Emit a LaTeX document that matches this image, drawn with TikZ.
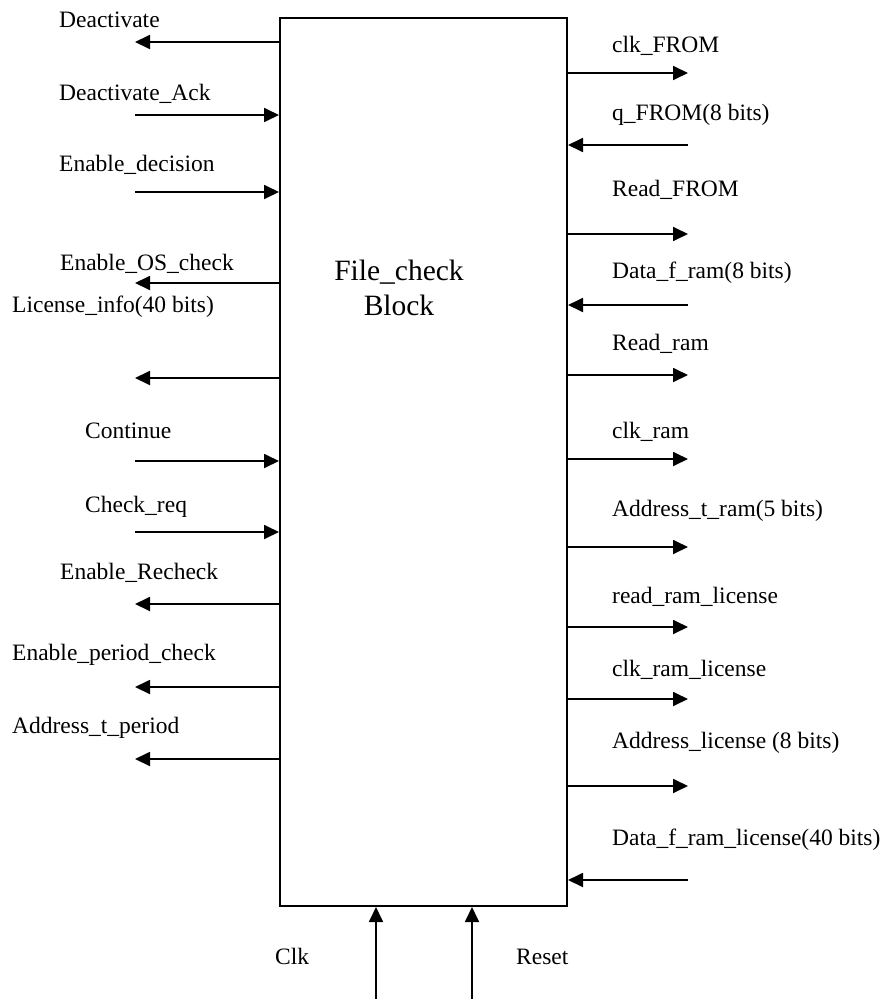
\documentclass[tikz,border=0pt]{standalone}
\usepackage{fontspec}
\setmainfont{Liberation Serif}
\usetikzlibrary{arrows.meta}
\begin{document}
\begin{tikzpicture}[x=1pt,y=-1pt,
  sig/.style={line width=1.8pt},
  sigo/.style={sig, -{Triangle[length=15pt,width=14pt]}},
  sigi/.style={sig, {Triangle[length=15pt,width=14pt]}-},
  lbl/.style={anchor=base west, inner sep=0pt, font=\fontsize{23.5}{28}\selectfont},
  ]
\useasboundingbox (0,0) rectangle (889,999);
\node[draw, line width=2pt, minimum width=287pt, minimum height=888pt, inner sep=0pt] (box) at (423.5,462) {};
\node[font=\fontsize{29.5}{35}\selectfont, align=center] (title) at (399,288) {File\_check\\Block};
% left side
\foreach \i/\lx/\ly/\ay/\d/\t in {
  1/59/27/42/sigo/{Deactivate},
  2/59/100/115/sigi/{Deactivate\_Ack},
  3/59/171/192/sigi/{Enable\_decision},
  4/60/270/283/sigo/{Enable\_OS\_check},
  5/12/312/378/sigo/{License\_info(40 bits)},
  6/85/438/461/sigi/{Continue},
  7/85/512/532/sigi/{Check\_req},
  8/60/579/604/sigo/{Enable\_Recheck},
  9/12/660/687/sigo/{Enable\_period\_check},
  10/12/733/759/sigo/{Address\_t\_period}}{
  \node[lbl] (L\i) at (\lx,\ly) {\t};
  \coordinate (LE\i) at (135,\ay);
  \draw[style=\d] (box.west |- LE\i) -- (LE\i);
}
% right side
\foreach \i/\ly/\ay/\d/\t in {
  1/52/73/sigo/{clk\_FROM},
  2/120/145/sigi/{q\_FROM(8 bits)},
  3/196/234/sigo/{Read\_FROM},
  4/278/305/sigi/{Data\_f\_ram(8 bits)},
  5/350/375/sigo/{Read\_ram},
  6/438/459/sigo/{clk\_ram},
  7/516/547/sigo/{Address\_t\_ram(5 bits)},
  8/603/627/sigo/{read\_ram\_license},
  9/676/699/sigo/{clk\_ram\_license},
  10/748/786/sigo/{Address\_license (8 bits)},
  11/845/880/sigi/{Data\_f\_ram\_license(40 bits)}}{
  \node[lbl] (R\i) at (612,\ly) {\t};
  \coordinate (RE\i) at (688,\ay);
  \draw[style=\d] (box.east |- RE\i) -- (RE\i);
}
% bottom
\node[lbl] (clk) at (275,964) {Clk};
\node[lbl] (reset) at (516,964) {Reset};
\coordinate (B1) at (376,999);
\coordinate (B2) at (472,999);
\draw[sigi] (box.south -| B1) -- (B1);
\draw[sigi] (box.south -| B2) -- (B2);
\end{tikzpicture}
\end{document}
